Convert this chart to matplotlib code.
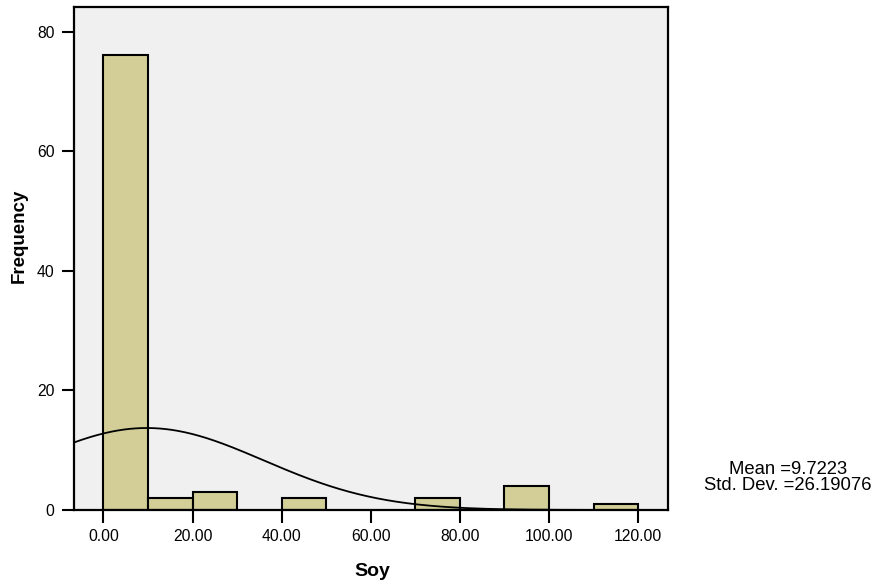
import numpy as np
import matplotlib
matplotlib.use("Agg")
import matplotlib.pyplot as plt

plt.rcParams['font.family'] = ['Liberation Sans', 'DejaVu Sans']

bin_edges = [0, 10, 20, 30, 40, 50, 60, 70, 80, 90, 100, 110, 120]
counts = [76, 2, 3, 0, 2, 0, 0, 2, 0, 4, 0, 1]
mean_val = 9.7223
std_val = 26.19076
xticks = [0, 20, 40, 60, 80, 100, 120]
xtick_labels = ["0.00", "20.00", "40.00", "60.00", "80.00", "100.00", "120.00"]
yticks = [0, 20, 40, 60, 80]

W, H = 878, 586
fig = plt.figure(figsize=(W/100, H/100), dpi=100)
ax = fig.add_axes([74/W, 1-510/H, (668-74)/W, (510-7)/H])
ax.set_facecolor('#F0F0F0')

lefts = bin_edges[:-1]
widths = np.diff(bin_edges)
for l, w, c in zip(lefts, widths, counts):
    if c > 0:
        ax.bar(l, c, width=w, align='edge', color='#D3CE98', edgecolor='black', linewidth=1.5, zorder=2)

xmin, xmax = -6.6, 126.7
n = sum(counts)
bw = bin_edges[1] - bin_edges[0]
xs = np.linspace(xmin, xmax, 500)
ys = n * bw / (std_val * np.sqrt(2*np.pi)) * np.exp(-0.5*((xs-mean_val)/std_val)**2)
ax.plot(xs, ys, color='black', linewidth=1.3, zorder=3)

ax.set_xlim(xmin, xmax)
ax.set_ylim(0, 84.1)
ax.set_xticks(xticks)
ax.set_xticklabels(xtick_labels)
ax.set_yticks(yticks)
ax.tick_params(axis='both', direction='out', length=9, width=1.5, labelsize=11.3, pad=5, colors='black')
for s in ax.spines.values():
    s.set_linewidth(1.6)
    s.set_color('black')

fig.text(372/W, 1-572/H, 'Soy', ha='center', va='center', fontsize=14, fontweight='bold')
fig.text(19/W, 1-236/H, 'Frequency', ha='center', va='center', fontsize=13.5, fontweight='bold', rotation=90)

fig.text(788/W, 1-469/H, 'Mean =%.4f' % mean_val, ha='center', va='center', fontsize=13.3)
fig.text(788/W, 1-486/H, 'Std. Dev. =%.5f' % std_val, ha='center', va='center', fontsize=13.3)

fig.savefig('out.png', dpi=100, facecolor='white')
